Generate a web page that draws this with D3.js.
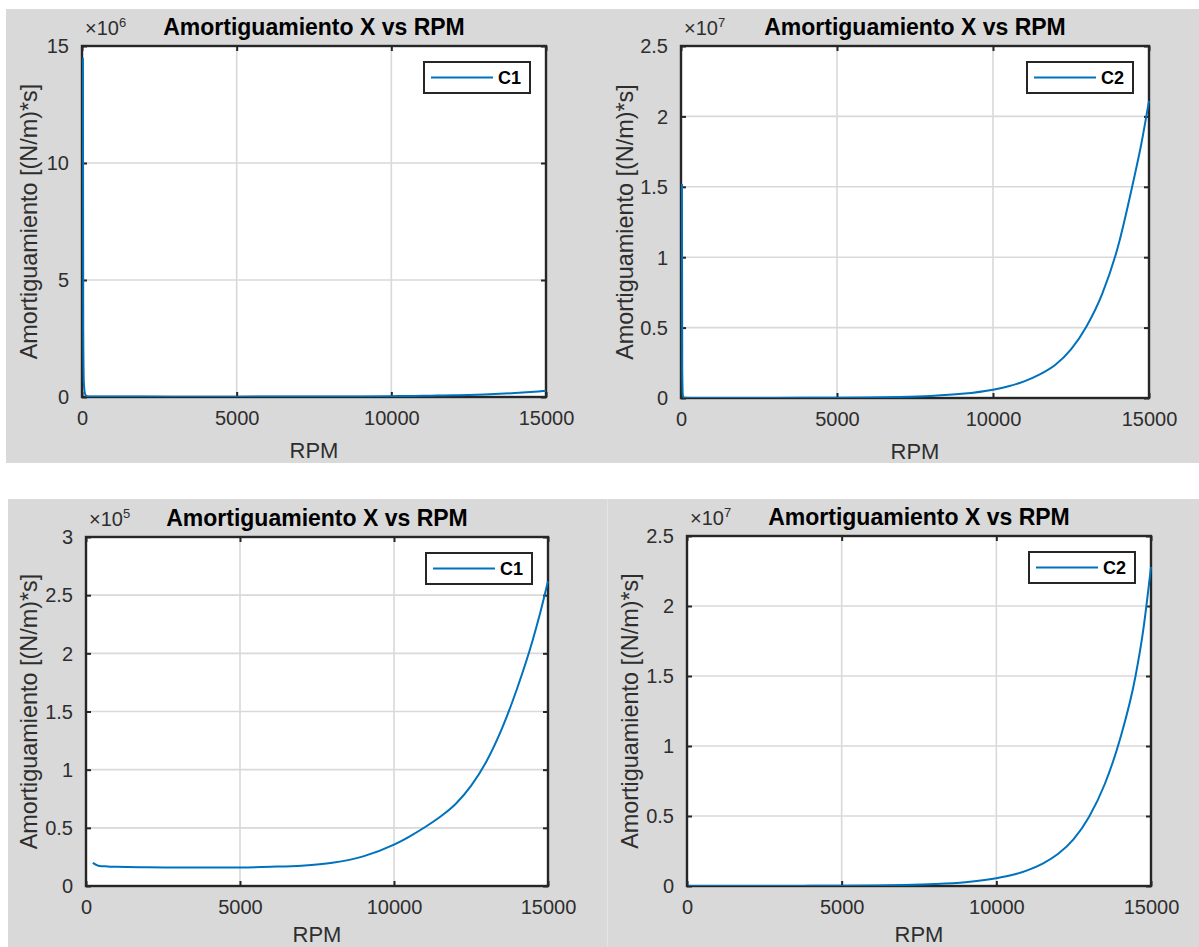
<!DOCTYPE html>
<html>
<head>
<meta charset="utf-8">
<script src="https://cdn.jsdelivr.net/npm/d3@7"></script>
<style>
  html, body { margin: 0; padding: 0; background: #ffffff; }
  svg { display: block; font-family: "Liberation Sans", Arial, Helvetica, sans-serif; }
</style>
</head>
<body>
<svg id="fig" width="1199" height="947"></svg>
<script>
// ---- Damping C1: full speed sweep (includes the low-speed start) ----
const c1Rpm = [30, 40, 60, 100, 150, 220, 400, 700, 1000, 2000, 3000, 4000, 5000, 6000, 7000, 8000, 9000,
               10000, 10500, 11000, 11500, 12000, 12500, 13000, 13500, 14000, 14500, 14750, 15000];
const c1Val = [14.5e6, 3.0e6, 6.0e5, 1.2e5, 4.0e4, 19800, 17500, 16800, 16500, 16100, 15900, 15800, 15900, 16500, 17500, 20000, 25500,
               35500, 42500, 50500, 59500, 70500, 86000, 107000, 135000, 170000, 211000, 235000, 262000];

// ---- Damping C2: sweep with low-speed start ----
const c2aRpm = [30, 40, 60, 100, 500, 1000, 2000, 3000, 4000, 5000, 6000, 7000, 8000, 9000,
                10000, 10500, 11000, 11500, 12000, 12500, 13000, 13500, 14000, 14500, 14750, 15000];
const c2aVal = [1.52e7, 2.0e6, 2.0e5, 2.0e4, 3.0e3, 3.0e3, 4.0e3, 6.0e3, 1.0e4, 1.9e4, 3.7e4, 7.4e4, 1.48e5, 2.95e5,
                5.9e5, 8.35e5, 1.18e6, 1.67e6, 2.36e6, 3.45e6, 5.1e6, 7.4e6, 1.07e7, 1.54e7, 1.80e7, 2.11e7];

// ---- Damping C2: second sweep ----
const c2bRpm = [50, 1000, 2000, 3000, 4000, 5000, 6000, 7000, 8000, 9000,
                10000, 10500, 11000, 11500, 12000, 12500, 13000, 13500, 14000, 14500, 14750, 15000];
const c2bVal = [2.0e3, 2.0e3, 3.0e3, 5.0e3, 9.0e3, 1.7e4, 3.4e4, 6.7e4, 1.35e5, 2.7e5,
                5.5e5, 7.8e5, 1.12e6, 1.6e6, 2.3e6, 3.35e6, 4.95e6, 7.25e6, 1.05e7, 1.5e7, 1.83e7, 2.28e7];

// ---- Axis ticks and labels ----
const xTicks  = [0, 5000, 10000, 15000];
const yTicksA = [0, 5, 10, 15];                   // ×10^6
const yTicksB = [0, 0.5, 1, 1.5, 2, 2.5];         // ×10^7
const yTicksC = [0, 0.5, 1, 1.5, 2, 2.5, 3];      // ×10^5
const titleText = "Amortiguamiento X vs RPM";
const xLabelText = "RPM";
const yLabelText = "Amortiguamiento [(N/m)*s]";
const seriesNames = ["C1", "C2", "C1", "C2"];
const exponents = [6, 7, 5, 7];

const svg = d3.select("#fig");
const FG = "#262626";
const TXT = "#2e2e2e";
const LINE = "#0072bd";
const BG = "#d9d9d9";
const H = 947;

// figure backgrounds
svg.append("rect").attr("x", 6).attr("y", 9).attr("width", 1193).attr("height", 454).attr("fill", BG);
svg.append("rect").attr("x", 8).attr("y", 499).attr("width", 600).attr("height", 448).attr("fill", BG);
svg.append("rect").attr("x", 608).attr("y", 499).attr("width", 591).attr("height", 448).attr("fill", BG);
svg.append("line").attr("x1", 607.5).attr("x2", 607.5).attr("y1", 499).attr("y2", 947)
   .attr("stroke", "#e4e4e4").attr("stroke-width", 1);

const panels = [
  { box: [82, 46, 546, 397],  yTicks: yTicksA, exp: exponents[0], name: seriesNames[0],
    rpm: c1Rpm, val: c1Val, minRpm: 0, ylabOff: 45 },
  { box: [681, 46, 1149, 398], yTicks: yTicksB, exp: exponents[1], name: seriesNames[1],
    rpm: c2aRpm, val: c2aVal, minRpm: 0, ylabOff: 48 },
  { box: [86, 537, 548, 886],  yTicks: yTicksC, exp: exponents[2], name: seriesNames[2],
    rpm: c1Rpm, val: c1Val, minRpm: 200, ylabOff: 49 },
  { box: [687, 536, 1151, 886], yTicks: yTicksB, exp: exponents[3], name: seriesNames[3],
    rpm: c2bRpm, val: c2bVal, minRpm: 0, ylabOff: 49 }
];

const fmt = d3.format("~g");

panels.forEach((p, i) => {
  const [x0, y0, x1, y1] = p.box;
  const w = x1 - x0, h = y1 - y0;
  const scaleF = Math.pow(10, p.exp);
  const yMax = p.yTicks[p.yTicks.length - 1];

  const x = d3.scaleLinear().domain([0, 15000]).range([x0, x1]);
  const y = d3.scaleLinear().domain([0, yMax]).range([y1, y0]);

  const g = svg.append("g");

  // plot area
  g.append("rect").attr("x", x0).attr("y", y0).attr("width", w).attr("height", h).attr("fill", "#ffffff");

  // grid
  const grid = g.append("g").attr("stroke", "#d9d9d9").attr("stroke-width", 1.6);
  xTicks.filter(t => t > 0 && t < 15000).forEach(t => {
    grid.append("line").attr("x1", x(t)).attr("x2", x(t)).attr("y1", y0).attr("y2", y1);
  });
  p.yTicks.filter(t => t > 0 && t < yMax).forEach(t => {
    grid.append("line").attr("x1", x0).attr("x2", x1).attr("y1", y(t)).attr("y2", y(t));
  });

  // axes with inward ticks
  const tickLen = 5;
  const axB = d3.axisBottom(x).tickValues(xTicks).tickSize(-tickLen).tickPadding(tickLen + 9).tickFormat(d3.format("d"));
  const axT = d3.axisTop(x).tickValues(xTicks).tickSize(-tickLen).tickFormat("");
  const axL = d3.axisLeft(y).tickValues(p.yTicks).tickSize(-tickLen).tickPadding(tickLen + 8).tickFormat(fmt);
  const axR = d3.axisRight(y).tickValues(p.yTicks).tickSize(-tickLen).tickFormat("");

  const styleAxis = sel => {
    sel.select(".domain").remove();
    sel.selectAll(".tick line").attr("stroke", FG).attr("stroke-width", 2);
    sel.selectAll(".tick text").attr("fill", TXT).style("font-size", "20px")
       .style("font-family", "'Liberation Sans', Arial, sans-serif");
  };
  g.append("g").attr("transform", `translate(0,${y1})`).call(axB).call(styleAxis)
   .selectAll(".tick text").attr("dy", "0.71em");
  g.append("g").attr("transform", `translate(0,${y0})`).call(axT).call(styleAxis);
  g.append("g").attr("transform", `translate(${x0},0)`).call(axL).call(styleAxis)
   .selectAll(".tick text").attr("dy", "0.34em");
  g.append("g").attr("transform", `translate(${x1},0)`).call(axR).call(styleAxis);

  // axes box
  g.append("rect").attr("x", x0).attr("y", y0).attr("width", w).attr("height", h)
   .attr("fill", "none").attr("stroke", FG).attr("stroke-width", 2.4);

  // data line
  const clipId = "clip" + i;
  svg.append("clipPath").attr("id", clipId).append("rect")
     .attr("x", x0).attr("y", y0 - 1).attr("width", w + 1).attr("height", h + 1);
  const pts = p.rpm.map((r, k) => [r, p.val[k] / scaleF]).filter(d => d[0] >= p.minRpm);
  const line = d3.line().x(d => x(d[0])).y(d => y(d[1])).curve(d3.curveMonotoneX);
  g.append("path").datum(pts).attr("clip-path", `url(#${clipId})`)
   .attr("d", line).attr("fill", "none").attr("stroke", LINE).attr("stroke-width", 2)
   .attr("stroke-linejoin", "round");

  // legend
  const lw = 106, lh = 31;
  const lx = x1 - 16 - lw, ly = y0 + 16;
  const lg = g.append("g").attr("transform", `translate(${lx},${ly})`);
  lg.append("rect").attr("width", lw).attr("height", lh).attr("fill", "#ffffff")
    .attr("stroke", FG).attr("stroke-width", 2);
  lg.append("line").attr("x1", 7).attr("x2", 69).attr("y1", lh / 2).attr("y2", lh / 2)
    .attr("stroke", LINE).attr("stroke-width", 2);
  lg.append("text").attr("x", 74).attr("y", lh / 2).attr("dy", "0.36em")
    .attr("font-size", 18).attr("font-weight", "bold").attr("fill", "#000").text(p.name);

  // exponent label
  const ex = g.append("text").attr("x", x0 + 3).attr("y", y0 - 11)
    .attr("font-size", 20).attr("fill", TXT);
  ex.append("tspan").text("×10");
  ex.append("tspan").attr("font-size", 13).attr("dy", -8).text(p.exp);

  // title
  g.append("text").attr("x", (x0 + x1) / 2).attr("y", y0 - 11).attr("text-anchor", "middle")
   .attr("font-size", 23).attr("font-weight", "bold").attr("fill", "#000").text(titleText);

  // x label (kept inside the figure at the bottom edge)
  g.append("text").attr("x", (x0 + x1) / 2).attr("y", Math.min(y1 + 61, H - 5)).attr("text-anchor", "middle")
   .attr("font-size", 22).attr("fill", TXT).text(xLabelText);

  // y label
  g.append("text").attr("transform", `translate(${x0 - p.ylabOff},${(y0 + y1) / 2}) rotate(-90)`)
   .attr("text-anchor", "middle").attr("font-size", 23.4).attr("fill", TXT).text(yLabelText);
});
</script>
</body>
</html>
